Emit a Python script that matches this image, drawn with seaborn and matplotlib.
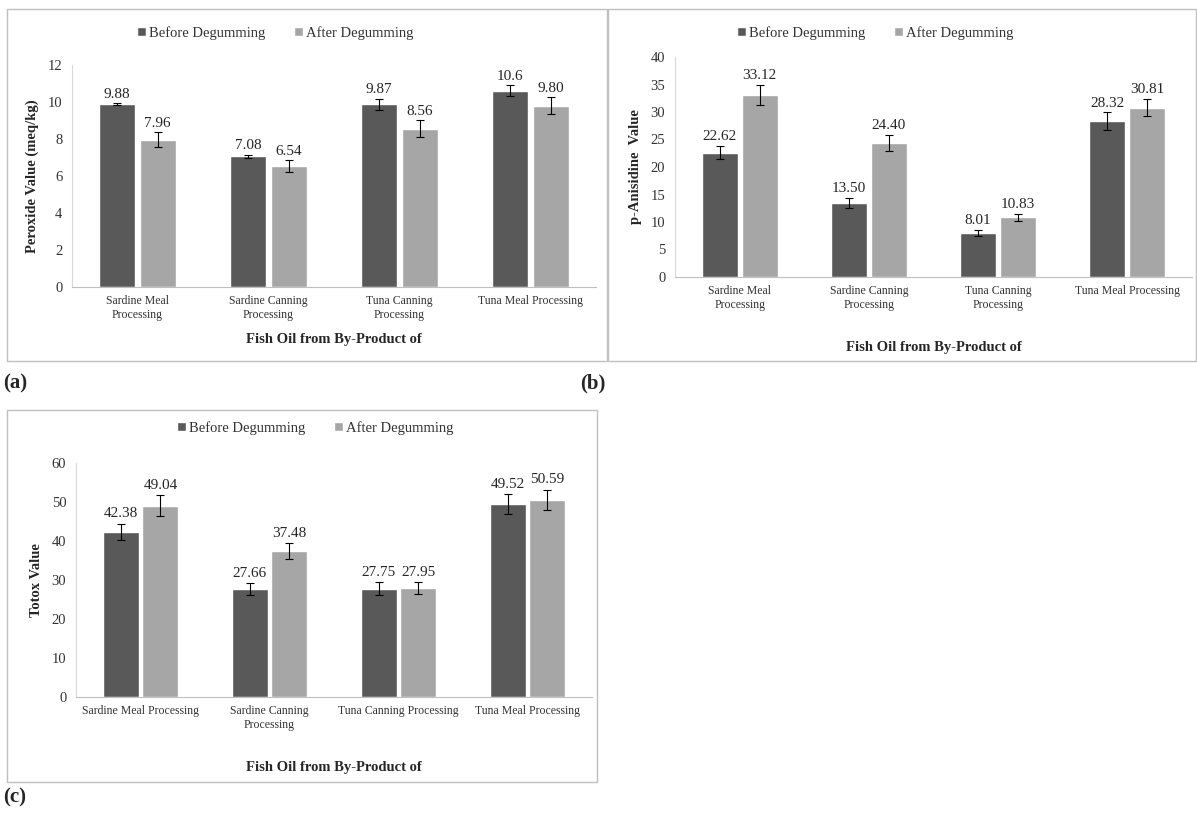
import matplotlib
matplotlib.use("Agg")
import matplotlib.pyplot as plt
import seaborn as sns
import pandas as pd
from matplotlib.patches import Rectangle

sns.set_style("white")
plt.rcParams['font.family'] = ['Liberation Serif', 'DejaVu Serif']

groups = ["Before Degumming", "After Degumming"]
sources = ["Sardine Meal Processing", "Sardine Canning Processing",
           "Tuna Canning Processing", "Tuna Meal Processing"]

# (a) peroxide value
pv_before = [9.88, 7.08, 9.87, 10.6]
pv_after = [7.96, 6.54, 8.56, 9.80]
pv_before_err = [0.05, 0.08, 0.3, 0.3]
pv_after_err = [0.4, 0.3, 0.45, 0.45]
pv_before_lbl = ["9.88", "7.08", "9.87", "10.6"]
pv_after_lbl = ["7.96", "6.54", "8.56", "9.80"]

# (b) p-anisidine value
av_before = [22.62, 13.50, 8.01, 28.32]
av_after = [33.12, 24.40, 10.83, 30.81]
av_before_err = [1.2, 0.9, 0.6, 1.6]
av_after_err = [1.8, 1.4, 0.6, 1.6]
av_before_lbl = ["22.62", "13.50", "8.01", "28.32"]
av_after_lbl = ["33.12", "24.40", "10.83", "30.81"]

# (c) totox value
tx_before = [42.38, 27.66, 27.75, 49.52]
tx_after = [49.04, 37.48, 27.95, 50.59]
tx_before_err = [2.1, 1.5, 1.7, 2.5]
tx_after_err = [2.7, 2.0, 1.5, 2.6]
tx_before_lbl = ["42.38", "27.66", "27.75", "49.52"]
tx_after_lbl = ["49.04", "37.48", "27.95", "50.59"]

ticks_ab = ["Sardine Meal\nProcessing", "Sardine Canning\nProcessing",
            "Tuna Canning\nProcessing", "Tuna Meal Processing"]
ticks_c = ["Sardine Meal Processing", "Sardine Canning\nProcessing",
           "Tuna Canning Processing", "Tuna Meal Processing"]

colors = ["#595959", "#a6a6a6"]
W, H = 1197, 814

fig = plt.figure(figsize=(W / 100, H / 100), dpi=100)


def px_axes(l, t, r, b):
    return fig.add_axes([l / W, 1 - b / H, (r - l) / W, (b - t) / H])


def panel(ax, before, after, berr, aerr, blbl, albl, ylim, ystep, ylabel, ticks, lab_off):
    df = pd.DataFrame({
        "source": sources * 2,
        "group": [groups[0]] * 4 + [groups[1]] * 4,
        "value": before + after,
    })
    sns.barplot(data=df, x="source", y="value", hue="group", palette=colors,
                errorbar=None, width=0.62, gap=0.1, ax=ax, saturation=1)
    for cont, errs, lbls in zip(ax.containers, [berr, aerr], [blbl, albl]):
        for bar, e, lb in zip(cont, errs, lbls):
            xc = bar.get_x() + bar.get_width() / 2
            h = bar.get_height()
            ax.errorbar(xc, h, yerr=e, fmt="none", ecolor="black",
                        elinewidth=0.8, capsize=3, capthick=0.8)
            ax.text(xc, h + e + lab_off, lb, ha="center", va="bottom",
                    fontsize=11, color="#262626")
    ax.set_ylim(*ylim)
    ax.set_yticks(range(ylim[0], ylim[1] + 1, ystep))
    ax.set_xticks(range(4))
    ax.set_xticklabels(ticks, fontsize=8.5, linespacing=1.15, color="#333333")
    ax.tick_params(axis="y", labelsize=10.5, length=0, pad=7, labelcolor="#333333")
    ax.tick_params(axis="x", length=0, pad=6)
    ax.set_ylabel(ylabel, fontsize=10.5, fontweight="bold", labelpad=6)
    ax.set_xlabel("Fish Oil from By-Product of", fontsize=10.5, fontweight="bold")
    ax.set_xlim(-0.5, 3.5)
    for s in ["top", "right"]:
        ax.spines[s].set_visible(False)
    ax.spines["left"].set_color("#d9d9d9")
    ax.spines["bottom"].set_color("#bfbfbf")
    ax.legend_.remove()
    return ax


def legend(ax, x, y):
    h, l = ax.get_legend_handles_labels()
    fig.legend(h, l, loc="center", bbox_to_anchor=(x / W, 1 - y / H), ncol=2,
               frameon=False, fontsize=10.5, handlelength=0.6, handleheight=0.6,
               columnspacing=2.0, handletextpad=0.2, labelcolor="#333333")


# panel frames
for (l, t, r, b) in [(7, 9, 607, 361), (608, 9, 1196, 361), (7, 410, 597, 782)]:
    fig.add_artist(Rectangle((l / W, 1 - b / H), (r - l) / W, (b - t) / H,
                             transform=fig.transFigure, fill=False,
                             edgecolor="#bfbfbf", linewidth=1))

ax_a = px_axes(72, 65, 596, 287)
panel(ax_a, pv_before, pv_after, pv_before_err, pv_after_err,
      pv_before_lbl, pv_after_lbl, (0, 12), 2, "Peroxide Value (meq/kg)", ticks_ab, 0.15)
legend(ax_a, 275, 33)
ax_a.xaxis.labelpad = 9

ax_b = px_axes(675, 57, 1192, 277)
panel(ax_b, av_before, av_after, av_before_err, av_after_err,
      av_before_lbl, av_after_lbl, (0, 40), 5, "p-Anisidine  Value", ticks_ab, 0.5)
legend(ax_b, 875, 33)
ax_b.xaxis.labelpad = 22

ax_c = px_axes(76, 463, 592, 697)
panel(ax_c, tx_before, tx_after, tx_before_err, tx_after_err,
      tx_before_lbl, tx_after_lbl, (0, 60), 10, "Totox Value", ticks_c, 0.8)
legend(ax_c, 315, 428)
ax_c.xaxis.labelpad = 22

for txt, x, y in [("(a)", 3, 383), ("(b)", 580, 383), ("(c)", 3, 797)]:
    fig.text(x / W, 1 - y / H, txt, fontsize=15, fontweight="bold", va="center")

fig.savefig("out.png", dpi=100)
